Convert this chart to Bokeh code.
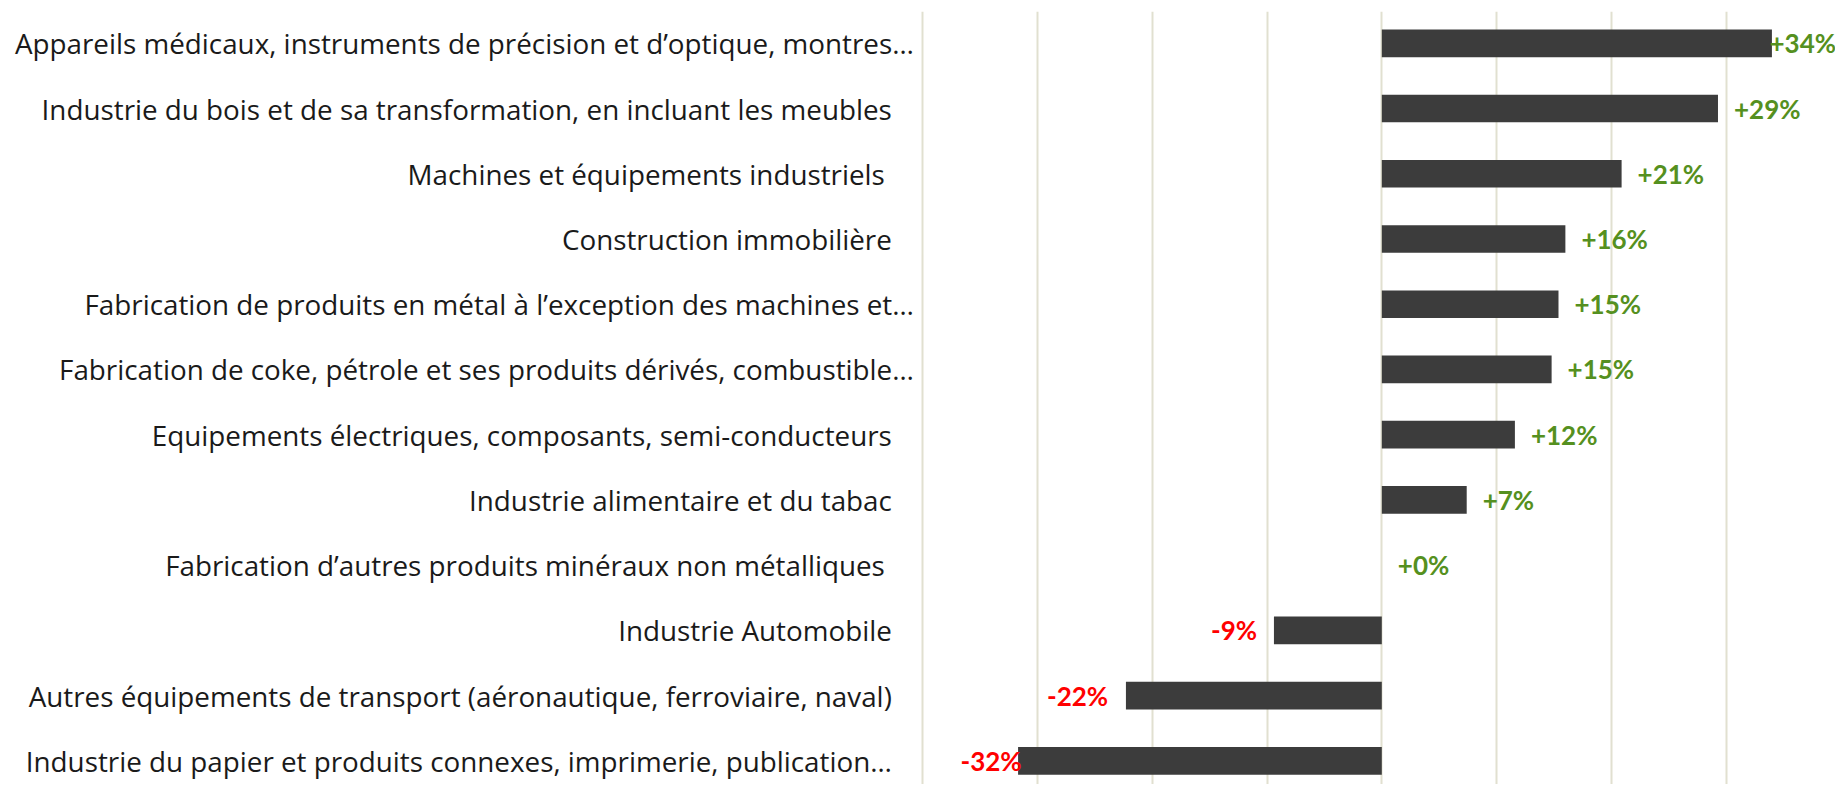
from bokeh.plotting import figure
from bokeh.models import Range1d, FixedTicker, ColumnDataSource
from bokeh.embed import file_html
from bokeh.resources import INLINE
from bokeh.core.properties import value

# ---------------- data ----------------
categories = [
    "Appareils médicaux, instruments de précision et d’optique, montres…",
    "Industrie du bois et de sa transformation, en incluant les meubles",
    "Machines et équipements industriels ",
    "Construction immobilière",
    "Fabrication de produits en métal à l’exception des machines et…",
    "Fabrication de coke, pétrole et ses produits dérivés, combustible…",
    "Equipements électriques, composants, semi-conducteurs",
    "Industrie alimentaire et du tabac",
    "Fabrication d’autres produits minéraux non métalliques ",
    "Industrie Automobile",
    "Autres équipements de transport (aéronautique, ferroviaire, naval)",
    "Industrie du papier et produits connexes, imprimerie, publication…",
]
changes = [34.0, 29.3, 20.9, 16.0, 15.4, 14.8, 11.6, 7.4, 0.0, -9.4, -22.3, -31.7]
grid_ticks = [-40, -30, -20, -10, 0, 10, 20, 30]

# ---------------- layout ----------------
W, H = 1835, 784
TOP = 11
ZERO_PX = 1381.3
PX_PER_UNIT = 11.474
X0 = -ZERO_PX / PX_PER_UNIT
X1 = (W - ZERO_PX) / PX_PER_UNIT
row_h = 65.23
first_row = 42.8 - TOP
frame_h = H - TOP
Y_TOP = -first_row / row_h
Y_BOT = (frame_h - first_row) / row_h

p = figure(width=W, height=H, output_backend="svg", toolbar_location=None,
           x_range=Range1d(X0, X1), y_range=Range1d(Y_BOT, Y_TOP),
           x_axis_location=None, y_axis_location=None,
           min_border_left=0, min_border_right=0, min_border_bottom=0,
           min_border_top=TOP)
p.outline_line_color = None
p.background_fill_color = "white"
p.border_fill_color = "white"
p.xgrid.ticker = FixedTicker(ticks=grid_ticks)
p.xgrid.grid_line_color = "#e1e0d0"
p.xgrid.grid_line_width = 2
p.ygrid.grid_line_color = None

idx = list(range(len(categories)))

# bars
p.hbar(y=idx, left=0, right=changes, height=0.424,
       fill_color="#3c3c3c", line_color=None)

# category labels (right aligned, left of the first gridline)
wide_rows = {0, 4, 5}
lab_x, lab_off, lab_txt = [], [], []
for i, c in enumerate(categories):
    off = -9 if i in wide_rows else -31
    if c.endswith(" "):
        off -= 7
    lab_x.append(grid_ticks[0])
    lab_off.append(off)
    lab_txt.append(c.strip())
src_lab = ColumnDataSource(dict(x=lab_x, y=idx, t=lab_txt, xo=lab_off))
p.text(x="x", y="y", text="t", x_offset="xo", source=src_lab,
       text_align="right", text_baseline="middle",
       text_font=value("Open Sans"), text_font_size="27.8px", text_color="#1a1a1a")

# value labels
ppu = W / (X1 - X0)
gap = 16
char_w = 16.0
left_lim_px = 960
right_lim_px = 1832
vx, vt, vc = [], [], []
for v in changes:
    t = f"{v:+.0f}%"
    wpx = char_w * len(t) - 1
    bar_px = (v - X0) * ppu
    if v >= 0:
        start = min(bar_px + gap, right_lim_px - wpx)
        col = "#559020"
    else:
        end = max(bar_px - gap, left_lim_px + wpx)
        start = end - wpx
        col = "#ff0000"
    vx.append(X0 + start / ppu)
    vt.append(t)
    vc.append(col)
src_val = ColumnDataSource(dict(x=vx, y=idx, t=vt, c=vc))
p.text(x="x", y="y", text="t", source=src_val, text_color="c",
       text_align="left", text_baseline="middle",
       text_font=value("Lato"), text_font_style="bold", text_font_size="26px")

open("out.html", "w").write(file_html(p, INLINE))
